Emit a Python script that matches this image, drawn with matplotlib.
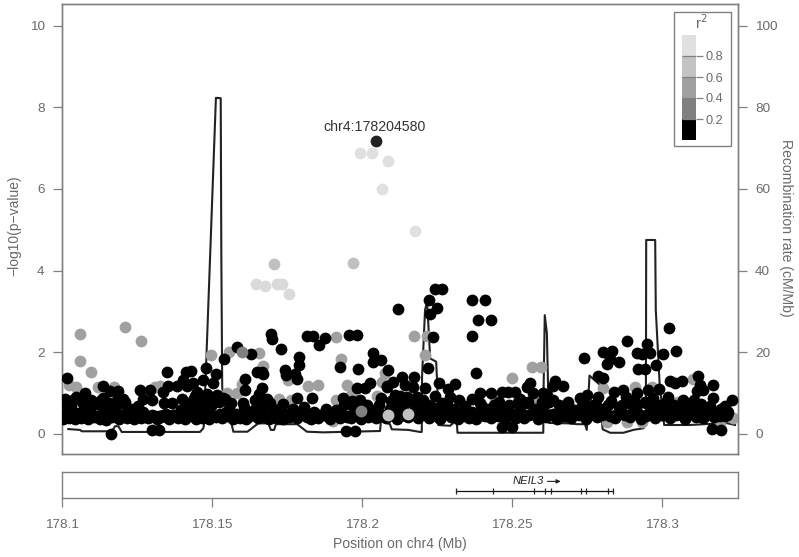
import matplotlib
matplotlib.use("Agg")
import matplotlib.pyplot as plt
from matplotlib.patches import Rectangle

plt.rcParams['font.family'] = ['Liberation Sans', 'DejaVu Sans']

W, H = 799, 557

# --- data ---
lead_x = [178.20458]
lead_y = [7.18]
lead_label = "chr4:178204580"

r2_high_x = [178.1994, 178.2033, 178.2087, 178.2068, 178.2177]
r2_high_y = [6.88, 6.88, 6.69, 6.00, 4.97]

r2_up_x = [178.1646, 178.1676, 178.1717, 178.1733, 178.1757]
r2_up_y = [3.68, 3.62, 3.68, 3.68, 3.42]

r2_mid_x = [178.1708, 178.1971, 178.2088, 178.2154]
r2_mid_y = [4.15, 4.19, 0.47, 0.48]

r2_dark_x = [178.1599, 178.1996]
r2_dark_y = [2.01, 0.57]

gray_x = [178.106, 178.1209, 178.1262, 178.106, 178.1097, 178.1024, 178.1046, 178.112, 178.1173,
          178.1249, 178.1216, 178.131, 178.1327, 178.1382, 178.1497, 178.1558, 178.1658, 178.1671,
          178.1752, 178.1819, 178.1854, 178.1912, 178.1931, 178.1951, 178.2051, 178.2066, 178.2077,
          178.1599, 178.1582, 178.1549, 178.1724, 178.1763, 178.1912, 178.1963, 178.1904, 178.2174,
          178.2216, 178.221, 178.2499, 178.2567, 178.2596, 178.2571, 178.2443, 178.2599, 178.2804,
          178.291, 178.3102, 178.2716, 178.2843, 178.2816, 178.2883, 178.2932, 178.3237, 178.3193,
          178.3053, 178.2966]
gray_y = [2.45, 2.61, 2.28, 1.78, 1.52, 1.20, 1.14, 1.15, 1.15,
          0.59, 0.55, 1.16, 1.18, 0.59, 1.93, 2.01, 1.98, 1.66,
          1.32, 1.18, 1.20, 2.38, 1.84, 1.20, 0.92, 1.28, 1.49,
          1.22, 1.01, 1.01, 0.85, 0.82, 0.83, 0.95, 0.32, 2.41,
          2.41, 1.93, 1.38, 1.63, 1.65, 0.85, 0.85, 0.59, 1.12,
          1.14, 1.35, 0.55, 0.42, 0.30, 0.30, 0.30, 0.39, 0.30,
          0.79, 1.14]

black_x = [178.1018, 178.1349, 178.1138, 178.1077, 178.1046, 178.101, 178.116, 178.1188, 178.1202,
           178.1138, 178.126, 178.1293, 178.1271, 178.1299, 178.1338, 178.134, 178.1366, 178.1354,
           178.1382, 178.1416, 178.1404, 178.1413, 178.1429, 178.1399, 178.1479, 178.1512, 178.1438,
           178.1471, 178.1504, 178.1449, 178.1482, 178.1516, 178.1538, 178.1437, 178.147, 178.1416,
           178.1449, 178.154, 178.1162, 178.1299, 178.1323, 178.1584, 178.163, 178.1696, 178.1701,
           178.1729, 178.1791, 178.179, 178.1816, 178.1838, 178.1876, 178.1857, 178.1956, 178.1984,
           178.2036, 178.2036, 178.2064, 178.1927, 178.1987, 178.2088, 178.1743, 178.1746, 178.1777,
           178.1782, 178.1649, 178.1666, 178.1671, 178.161, 178.1611, 178.1668, 178.1658, 178.1984,
           178.201, 178.2027, 178.2082, 178.1784, 178.1832, 178.1938, 178.1993, 178.197, 178.1543,
           178.1682, 178.1604, 178.1649, 178.1693, 178.1737, 178.1947, 178.1977, 178.2121, 178.2243,
           178.2266, 178.2223, 178.2249, 178.2227, 178.2238, 178.2219, 178.2368, 178.2409, 178.2386,
           178.243, 178.2366, 178.238, 178.2257, 178.231, 178.2288, 178.2293, 178.2174, 178.2132,
           178.2104, 178.2084, 178.256, 178.2549, 178.2571, 178.2393, 178.243, 178.2466, 178.2487,
           178.251, 178.2366, 178.2323, 178.2521, 178.246, 178.221, 178.2171, 178.2143, 178.211,
           178.2182, 178.2149, 178.2204, 178.2171, 178.2138, 178.211, 178.2243, 178.2266, 178.2604,
           178.2466, 178.2499, 178.2884, 178.3022, 178.2951, 178.2802, 178.2834, 178.274, 178.2858,
           178.2827, 178.2816, 178.2916, 178.2932, 178.296, 178.3004, 178.3046, 178.298, 178.2921,
           178.2943, 178.2788, 178.2802, 178.2643, 178.2636, 178.2671, 178.3027, 178.3043, 178.3068,
           178.3121, 178.3127, 178.3169, 178.3116, 178.3138, 178.3171, 178.3232, 178.321, 178.3193,
           178.3166, 178.3197, 178.299, 178.2954, 178.2916, 178.2871, 178.284, 178.3021, 178.2971,
           178.288, 178.2788, 178.2749, 178.2727, 178.2688, 178.3071, 178.3107, 178.2616, 178.2638,
           178.2599]
black_y = [1.37, 1.52, 1.17, 1.01, 0.91, 0.85, 1.06, 1.06, 0.85,
           0.87, 1.08, 1.08, 0.85, 0.83, 1.03, 0.76, 0.76, 1.17,
           1.17, 1.17, 1.32, 1.52, 1.55, 0.85, 1.61, 1.48, 1.24,
           1.32, 1.24, 1.03, 0.99, 0.95, 0.87, 0.83, 0.76, 0.67,
           0.67, 1.83, -0.01, 0.10, 0.10, 2.12, 1.97, 2.46, 2.32,
           2.09, 1.89, 1.69, 2.40, 2.40, 2.34, 2.18, 2.42, 2.42,
           1.98, 1.76, 1.80, 1.63, 1.58, 1.57, 1.57, 1.44, 1.46,
           1.34, 1.52, 1.52, 1.47, 1.35, 1.08, 1.12, 0.99, 1.12,
           1.13, 1.26, 1.18, 0.87, 0.87, 0.87, 0.83, 0.76, 0.86,
           0.85, 0.75, 0.75, 0.76, 0.73, 0.07, 0.07, 3.05, 3.55,
           3.55, 3.29, 3.08, 2.93, 2.38, 1.62, 3.29, 3.29, 2.79,
           2.79, 2.40, 1.50, 1.24, 1.22, 1.09, 0.91, 1.40, 1.39,
           1.28, 1.16, 1.26, 1.14, 1.01, 1.01, 1.01, 1.04, 1.04,
           1.04, 0.85, 0.82, 0.79, 0.71, 1.12, 1.16, 1.20, 0.95,
           0.91, 0.91, 0.83, 0.75, 0.67, 0.67, 0.93, 0.75, 1.00,
           0.18, 0.16, 2.28, 2.59, 2.20, 2.01, 2.04, 1.86, 1.77,
           1.83, 1.71, 1.98, 1.96, 1.99, 1.95, 2.04, 1.69, 1.59,
           1.59, 1.43, 1.36, 1.30, 1.17, 1.18, 1.30, 1.26, 1.30,
           1.43, 1.20, 1.19, 1.05, 1.08, 0.89, 0.83, 0.69, 0.59,
           0.12, 0.10, 1.09, 1.08, 1.00, 1.08, 1.04, 0.91, 0.87,
           0.90, 0.90, 0.95, 0.87, 0.79, 0.82, 0.82, 0.95, 0.83,
           0.79]

band_x = [178.1003, 178.1012, 178.1024, 178.1031, 178.1043, 178.1055, 178.1062, 178.1074, 178.1085, 178.1093,
          178.1106, 178.1114, 178.1126, 178.1137, 178.1145, 178.1158, 178.1166, 178.1178, 178.1189, 178.1197,
          178.1209, 178.1218, 178.1231, 178.1239, 178.1252, 178.1263, 178.1271, 178.1286, 178.1301, 178.1317,
          178.1329, 178.1346, 178.1358, 178.1371, 178.1388, 178.1397, 178.1409, 178.1423, 178.1431, 178.1445,
          178.1453, 178.1468, 178.1476, 178.1489, 178.1497, 178.1512, 178.1524, 178.1533, 178.1547, 178.1558,
          178.1569, 178.1581, 178.1592, 178.1606, 178.1614, 178.1628, 178.1641, 178.1653, 178.1662, 178.1677,
          178.1689, 178.1698, 178.1712, 178.1724, 178.1736, 178.1748, 178.1757, 178.1771, 178.1783, 178.1794,
          178.1807, 178.1816, 178.1829, 178.1841, 178.1853, 178.1866, 178.1879, 178.1892, 178.1901, 178.1914,
          178.1926, 178.1939, 178.1951, 178.1963, 178.1972, 178.1985, 178.1997, 178.2009, 178.2021, 178.2034,
          178.2047, 178.2056, 178.2069, 178.2081, 178.2093, 178.2106, 178.2117, 178.2128, 178.2139, 178.2152,
          178.2163, 178.2176, 178.2188, 178.2197, 178.2209, 178.2222, 178.2234, 178.2247, 178.2259, 178.2271,
          178.2283, 178.2296, 178.2307, 178.2319, 178.2332, 178.2344, 178.2356, 178.2368, 178.2381, 178.2392,
          178.2404, 178.2417, 178.2429, 178.2441, 178.2453, 178.2466, 178.2478, 178.2491, 178.2503, 178.2514,
          178.2527, 178.2539, 178.2551, 178.2563, 178.2576, 178.2588, 178.2601, 178.2612, 178.2624, 178.2637,
          178.2649, 178.2661, 178.2673, 178.2686, 178.2698, 178.2709, 178.2722, 178.2734, 178.2747, 178.2758,
          178.2771, 178.2783, 178.2796, 178.2807, 178.2819, 178.2832, 178.2844, 178.2856, 178.2868, 178.2881,
          178.2893, 178.2906, 178.2917, 178.2929, 178.2942, 178.2954, 178.2966, 178.2978, 178.2991, 178.3003,
          178.3016, 178.3027, 178.3039, 178.3052, 178.3064, 178.3076, 178.3088, 178.3101, 178.3113, 178.3124,
          178.3137, 178.3149, 178.3161, 178.3173, 178.3186, 178.3198, 178.3209, 178.3221]
band_y = [0.36, 0.55, 0.40, 0.66, 0.37, 0.52, 0.39, 0.70, 0.36, 0.56,
          0.41, 0.74, 0.37, 0.58, 0.35, 0.72, 0.42, 0.60, 0.36, 0.75,
          0.44, 0.38, 0.62, 0.36, 0.68, 0.40, 0.55, 0.38, 0.47, 0.36,
          0.42, 0.50, 0.37, 0.46, 0.38, 0.58, 0.36, 0.66, 0.43, 0.37,
          0.72, 0.40, 0.55, 0.37, 0.68, 0.42, 0.78, 0.38, 0.55, 0.62,
          0.37, 0.50, 0.40, 0.66, 0.36, 0.45, 0.58, 0.38, 0.70, 0.42,
          0.36, 0.52, 0.40, 0.62, 0.37, 0.47, 0.42, 0.60, 0.38, 0.50,
          0.66, 0.42, 0.37, 0.55, 0.40, 0.47, 0.62, 0.37, 0.44, 0.58,
          0.40, 0.70, 0.42, 0.38, 0.62, 0.50, 0.36, 0.68, 0.42, 0.58,
          0.38, 0.72, 0.46, 0.40, 0.62, 0.50, 0.36, 0.75, 0.55, 0.42,
          0.80, 0.60, 0.38, 0.72, 0.48, 0.40, 0.66, 0.44, 0.37, 0.58,
          0.72, 0.42, 0.60, 0.36, 0.50, 0.68, 0.40, 0.55, 0.37, 0.75,
          0.46, 0.62, 0.38, 0.70, 0.44, 0.58, 0.37, 0.72, 0.50, 0.40,
          0.66, 0.38, 0.75, 0.48, 0.60, 0.37, 0.66, 0.42, 0.78, 0.50,
          0.37, 0.62, 0.44, 0.72, 0.40, 0.58, 0.47, 0.68, 0.37, 0.55,
          0.70, 0.42, 0.62, 0.50, 0.72, 0.44, 0.38, 0.66, 0.50, 0.75,
          0.42, 0.60, 0.70, 0.37, 0.78, 0.50, 0.62, 0.40, 0.72, 0.47,
          0.62, 0.38, 0.72, 0.50, 0.66, 0.37, 0.58, 0.74, 0.42, 0.62,
          0.38, 0.55, 0.68, 0.42, 0.50, 0.62, 0.45, 0.55]

band2_x = [178.1008, 178.1028, 178.1049, 178.1067, 178.1089, 178.1109, 178.1131, 178.1151, 178.1172, 178.1193,
           178.1213, 178.1235, 178.1256, 178.1278, 178.1294, 178.1309, 178.1323, 178.1338, 178.1352, 178.1365,
           178.1379, 178.1393, 178.1416, 178.1438, 178.1461, 178.1482, 178.1504, 178.1528, 178.1552, 178.1575,
           178.1597, 178.1621, 178.1647, 178.1669, 178.1693, 178.1718, 178.1742, 178.1765, 178.1789, 178.1812,
           178.1835, 178.1859, 178.1884, 178.1908, 178.1932, 178.1957, 178.1979, 178.2003, 178.2027, 178.2051,
           178.2075, 178.2099, 178.2122, 178.2146, 178.2169, 178.2193, 178.2216, 178.2241, 178.2265, 178.2289,
           178.2313, 178.2338, 178.2362, 178.2386, 178.2411, 178.2435, 178.2459, 178.2484, 178.2508, 178.2533,
           178.2557, 178.2582, 178.2606, 178.2631, 178.2655, 178.2679, 178.2703, 178.2728, 178.2752, 178.2777,
           178.2801, 178.2826, 178.2851, 178.2875, 178.2899, 178.2923, 178.2948, 178.2972, 178.2997, 178.3021,
           178.3045, 178.3069, 178.3094, 178.3118, 178.3143, 178.3167, 178.3192, 178.3216]
band2_y = [0.46, 0.44, 0.48, 0.42, 0.50, 0.45, 0.47, 0.43, 0.49, 0.46,
           0.52, 0.44, 0.48, 0.45, 0.42, 0.44, 0.43, 0.46, 0.42, 0.45,
           0.43, 0.47, 0.44, 0.50, 0.46, 0.52, 0.45, 0.50, 0.44, 0.47,
           0.50, 0.44, 0.48, 0.52, 0.44, 0.47, 0.50, 0.45, 0.48, 0.43,
           0.50, 0.46, 0.44, 0.49, 0.46, 0.44, 0.48, 0.52, 0.45, 0.50,
           0.44, 0.47, 0.50, 0.45, 0.48, 0.52, 0.46, 0.50, 0.44, 0.48,
           0.46, 0.44, 0.47, 0.50, 0.45, 0.48, 0.52, 0.46, 0.44, 0.50,
           0.47, 0.44, 0.52, 0.46, 0.50, 0.44, 0.48, 0.50, 0.45, 0.52,
           0.47, 0.44, 0.50, 0.46, 0.52, 0.48, 0.45, 0.50, 0.47, 0.52,
           0.46, 0.44, 0.50, 0.47, 0.45, 0.50, 0.44, 0.46]

band3_x = [178.1006, 178.1035, 178.1066, 178.1098, 178.1128, 178.1157, 178.1183, 178.1211, 178.1442, 178.1468,
           178.1493, 178.1519, 178.1562, 178.1644, 178.1676, 178.1968, 178.2018, 178.2062, 178.2098, 178.2127,
           178.2159, 178.2188, 178.2219, 178.2281, 178.2397, 178.2458, 178.2527, 178.2553, 178.2609, 178.2658,
           178.2739, 178.2775, 178.2831, 178.2868, 178.2908, 178.2947, 178.2983, 178.3014, 178.3081, 178.3129]
band3_y = [0.78, 0.82, 0.78, 0.84, 0.80, 0.76, 0.82, 0.78, 0.92, 0.86,
           0.90, 0.84, 0.76, 0.82, 0.76, 0.80, 0.72, 0.88, 0.80, 0.92,
           0.86, 0.78, 0.72, 0.70, 0.72, 0.78, 0.86, 0.78, 0.84, 0.72,
           0.74, 0.72, 0.80, 0.72, 0.82, 0.76, 0.72, 0.78, 0.72, 0.74]

rec_x = [178.1021, 178.106, 178.1066, 178.1166, 178.1177, 178.1188, 178.1199, 178.146, 178.1471, 178.1473,
         178.1513, 178.1529, 178.1531, 178.1534, 178.1543, 178.1566, 178.1571, 178.1618, 178.1654, 178.1688,
         178.1696, 178.1707, 178.1713, 178.1784, 178.1816, 178.1871, 178.206, 178.2063, 178.2093, 178.2099,
         178.2154, 178.2193, 178.2199, 178.22, 178.221, 178.2217, 178.2227, 178.2247, 178.2251, 178.2254,
         178.2293, 178.231, 178.2316, 178.2318, 178.2604, 178.2605, 178.2609, 178.2616, 178.262, 178.2623,
         178.2688, 178.2716, 178.2743, 178.2749, 178.2758, 178.2793, 178.28, 178.2802, 178.2827, 178.2871,
         178.2904, 178.2938, 178.2946, 178.2947, 178.2977, 178.2979, 178.2992, 178.3007, 178.3093, 178.3213,
         178.3243]
rec_y = [1.2, 1.0, 0.66, 0.66, 1.9, 1.9, 0.5, 0.5, 1.4, 2.2,
         82.3, 82.2, 43.8, 11.3, 7.1, 2.2, 0.56, 0.56, 2.6, 2.6,
         1.0, 1.0, 2.4, 2.4, 0.56, 0.4, 0.73, 3.2, 2.4, 1.15,
         1.0, 0.5, 0.5, 14.0, 30.4, 32.3, 18.5, 17.7, 11.6, 2.2,
         2.0, 3.0, 2.7, 0.3, 0.3, 10.8, 29.1, 24.7, 11.6, 2.7,
         2.6, 2.4, 2.4, 1.0, 14.3, 12.0, 2.6, 1.15, 0.3, 0.3,
         1.0, 1.4, 2.6, 47.5, 47.5, 30.4, 12.0, 2.2, 2.2, 2.7,
         2.2]

gene_name = "NEIL3"
gene_start = 178.2312
gene_end = 178.2838
exon_x = [178.2312, 178.2438, 178.2573, 178.261, 178.2629, 178.2729, 178.2747, 178.2821, 178.2838]

legend_bounds = [0.0, 0.2, 0.4, 0.6, 0.8, 1.0]
legend_colors = ['#000000', '#808080', '#a0a0a0', '#c4c4c4', '#e0e0e0']
legend_ticks = [0.2, 0.4, 0.6, 0.8]
x_ticks = [178.1, 178.15, 178.2, 178.25, 178.3]
x_tick_labels = ['178.1', '178.15', '178.2', '178.25', '178.3']
y_ticks = [0, 2, 4, 6, 8, 10]
rec_ticks = [0, 20, 40, 60, 80, 100]

# --- layout ---
TXT = '#6a6a6a'
SP = '#808080'
FS = 9.7
S = 72


def pax(l, t, r, b):
    return fig.add_axes([l / W, 1 - b / H, (r - l) / W, (b - t) / H])


fig = plt.figure(figsize=(W / 100, H / 100), dpi=100, facecolor='white')
XLIM = (178.1, 178.3252)
ax = pax(62, 4.3, 737.7, 454)
ax.set_xlim(*XLIM)
ax.set_ylim(-0.49, 10.52)

ax2 = ax.twinx()
ax2.set_ylim(-4.9, 105.2)
ax2.plot(rec_x, rec_y, color='#222222', lw=1.5, zorder=1, solid_joinstyle='round')
ax2.set_yticks(rec_ticks)
ax.set_zorder(ax2.get_zorder() + 1)
ax.patch.set_visible(False)

kw = dict(linewidths=0, clip_on=True)
ax.scatter(gray_x, gray_y, s=S, c='#a0a0a0', zorder=2, **kw)
ax.scatter(band_x, band_y, s=S, c='#000000', zorder=3, **kw)
ax.scatter(band2_x, band2_y, s=S, c='#000000', zorder=3, **kw)
ax.scatter(band3_x, band3_y, s=S, c='#000000', zorder=3, **kw)
ax.scatter(black_x, black_y, s=S, c='#000000', zorder=3, **kw)
ax.scatter(r2_dark_x, r2_dark_y, s=S, c='#808080', zorder=4, **kw)
ax.scatter(r2_mid_x, r2_mid_y, s=S, c='#c0c0c0', zorder=4, **kw)
ax.scatter(r2_up_x, r2_up_y, s=S, c='#dadada', zorder=4, **kw)
ax.scatter(r2_high_x, r2_high_y, s=S, c='#e0e0e0', zorder=4, **kw)
ax.scatter(lead_x, lead_y, s=S, c='#222222', zorder=5, **kw)
ax.annotate(lead_label, (lead_x[0], lead_y[0]), xytext=(-0.7, 5), textcoords='offset points',
            ha='center', va='bottom', fontsize=10.2, color='#333333')

ax.set_yticks(y_ticks)
ax.set_xticks([])
for a in (ax, ax2):
    for s in a.spines.values():
        s.set_color(SP)
        s.set_linewidth(1.0)
ax.tick_params(axis='y', length=6.5, width=0.9, color=SP, labelcolor=TXT, labelsize=FS, pad=6)
ax2.tick_params(axis='y', length=6.5, width=0.9, color=SP, labelcolor=TXT, labelsize=FS, pad=6)
fig.text(14 / W, 1 - 226 / H, '\u2212log10(p\u2212value)', rotation=90, ha='center', va='center',
         fontsize=10, color=TXT)
fig.text(786 / W, 1 - 228 / H, 'Recombination rate (cM/Mb)', rotation=270, ha='center', va='center',
         fontsize=10.1, color=TXT)

# gene panel
gx = pax(62, 472.3, 737.7, 498.3)
gx.set_xlim(*XLIM)
gx.set_ylim(0, 1)
gx.set_yticks([])
gx.set_xticks(x_ticks)
gx.set_xticklabels(x_tick_labels)
gx.tick_params(axis='x', length=6.5, width=0.9, color=SP, labelcolor=TXT, labelsize=FS, pad=8.5)
for s in gx.spines.values():
    s.set_color(SP)
    s.set_linewidth(1.0)
gx.plot([gene_start, gene_end], [0.28, 0.28], color='#111111', lw=0.9, solid_capstyle='butt')
gx.vlines(exon_x, 0.18, 0.38, color='#222222', lw=0.9)
gx.text(178.2553, 0.65, gene_name, style='italic', fontsize=8.1, color='#222222', ha='center', va='center')
gx.annotate('', xy=(178.2662, 0.65), xytext=(178.2618, 0.65),
            arrowprops=dict(arrowstyle='-|>', color='#222222', lw=0.8, shrinkA=0, shrinkB=0, mutation_scale=6))
fig.text(400 / W, 1 - 544 / H, 'Position on chr4 (Mb)', ha='center', va='center', fontsize=10.1, color=TXT)

# r2 legend
fig.add_artist(Rectangle((674.3 / W, 1 - 146 / H), 56.4 / W, 134.3 / H, transform=fig.transFigure,
                         facecolor='white', edgecolor=SP, lw=1.0, zorder=10))
lx = pax(682.3, 35, 695.7, 140)
lx.set_zorder(11)
lx.set_xlim(0, 1)
lx.set_ylim(legend_bounds[0], legend_bounds[-1])
for i, c in enumerate(legend_colors):
    lx.bar(0.5, legend_bounds[i + 1] - legend_bounds[i], bottom=legend_bounds[i], width=1.0,
           color=c, edgecolor='none')
lx.hlines(legend_ticks, 0, 1, color='#808080', lw=0.9)
lx.set_xticks([])
lx.yaxis.tick_right()
lx.set_yticks(legend_ticks)
lx.set_yticklabels(['0.2', '0.4', '0.6', '0.8'])
lx.tick_params(axis='y', length=4.8, width=0.9, color=SP, labelcolor=TXT, labelsize=9.2, pad=2)
for s in lx.spines.values():
    s.set_visible(False)
fig.text(701.7 / W, 1 - 23 / H, 'r$^{2}$', ha='center', va='center', fontsize=10.5, color=TXT, zorder=12,
         math_fontfamily='dejavusans')

fig.savefig('out.png', dpi=100, facecolor='white')
